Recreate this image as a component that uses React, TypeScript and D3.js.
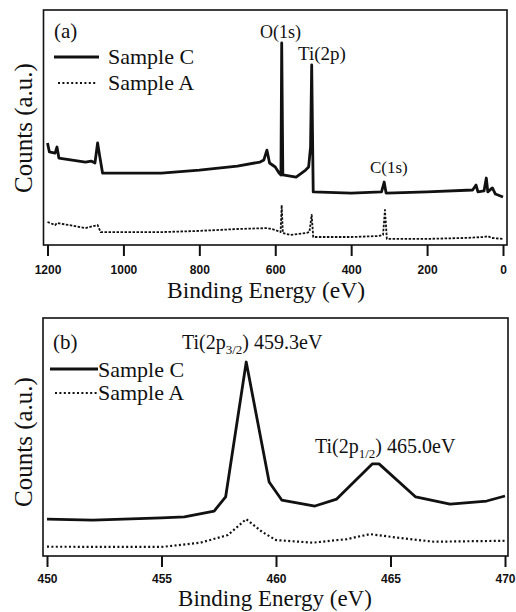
import React, { useEffect, useRef } from 'react';
import * as d3 from 'd3';

// Survey scan (a), binding energy in eV and counts (a.u., 0-100)
const surveyEnergyC = [1200, 1195, 1180, 1175, 1170, 1100, 1085, 1075, 1068, 1062, 1055, 1000, 900, 800, 700, 640, 630, 622, 615, 600, 590, 585, 583, 580, 545, 520, 512, 507, 504, 500, 400, 320, 313, 308, 200, 80, 71, 66, 50, 44, 40, 28, 20, 0];
const surveyCountsC = [43.4, 39.6, 39.1, 41.7, 37.0, 35.3, 35.7, 34.9, 43.4, 37.4, 30.6, 30.6, 30.6, 31.9, 33.6, 35.3, 36.2, 40.4, 34.9, 33.2, 30.6, 29.8, 86.0, 29.8, 28.9, 31.9, 33.2, 41.7, 76.6, 22.6, 22.1, 22.6, 26.8, 22.1, 22.6, 23.4, 25.5, 22.6, 23.0, 28.5, 22.6, 24.3, 21.7, 20.4];
const surveyEnergyA = [1200, 1180, 1175, 1100, 1068, 1060, 1000, 900, 800, 700, 620, 600, 586, 583, 580, 560, 520, 510, 504, 500, 400, 330, 316, 311, 306, 200, 100, 50, 40, 30, 0];
const surveyCountsA = [9.8, 8.5, 9.4, 7.2, 8.5, 5.5, 5.5, 5.5, 6.0, 6.8, 7.2, 6.4, 5.5, 17.0, 5.1, 4.3, 5.1, 5.5, 12.8, 3.4, 3.4, 3.8, 4.3, 14.9, 2.6, 2.6, 3.0, 3.4, 3.8, 3.0, 2.6];
const surveyTicks = [1200, 1000, 800, 600, 400, 200, 0];

// Ti(2p) region (b)
const tiEnergyC = [450, 452, 455, 456, 457.3, 457.8, 458.7, 459.7, 460.25, 461.7, 462.65, 464.2, 464.5, 466.1, 467.6, 469.2, 470];
const tiCountsC = [15.5, 15.1, 16.0, 16.4, 18.9, 24.8, 81.5, 31.1, 23.5, 21.0, 23.9, 38.7, 38.7, 24.8, 21.8, 23.1, 25.2];
const tiEnergyA = [450, 455, 456.7, 457.9, 458.7, 459.4, 460.0, 461.6, 463.1, 464.1, 465.4, 466.9, 470];
const tiCountsA = [3.9, 3.8, 5.6, 8.8, 15.5, 10.1, 6.7, 5.6, 7.1, 9.2, 7.6, 6.0, 6.4];
const tiTicks = [450, 455, 460, 465, 470];

const serif = 'Liberation Serif';
const sans = 'Liberation Sans';

const solidStyle = { width: 2.8, dash: null };
const dotStyle = { width: 2.2, dash: '2,2.4' };

function drawPanel(svg, opts) {
    const { frame, domain, range, ticks, series, tickPadding } = opts;

    const x = d3.scaleLinear().domain(domain).range(range);
    const y = d3.scaleLinear().domain([0, 100]).range([frame.y1, frame.y0]);

    const g = svg.append('g');

    //  Frame
    g.append('rect')
        .attr('x', frame.x0)
        .attr('y', frame.y0)
        .attr('width', frame.x1 - frame.x0)
        .attr('height', frame.y1 - frame.y0)
        .attr('fill', 'none')
        .attr('stroke', '#111')
        .attr('stroke-width', 1.6);

    //  Bottom axis, ticks hang below the frame
    const axis = g.append('g')
        .attr('transform', 'translate(0,' + frame.y1 + ')')
        .call(d3.axisBottom(x).tickValues(ticks).tickSize(11).tickPadding(tickPadding).tickFormat(d3.format('d')));
    axis.select('.domain').remove();
    axis.attr('font-family', sans).attr('font-size', 12).attr('font-weight', 'bold');
    axis.selectAll('line').attr('stroke', '#111').attr('stroke-width', 2);
    axis.selectAll('text').attr('fill', '#111');

    const line = d3.line().x(d => x(d[0])).y(d => y(d[1]));

    series.forEach(s => {
        g.append('path')
            .datum(s.energy.map((e, i) => [e, s.counts[i]]))
            .attr('d', line)
            .attr('fill', 'none')
            .attr('stroke', '#111')
            .attr('stroke-width', s.style.width)
            .attr('stroke-linejoin', 'round')
            .attr('stroke-dasharray', s.style.dash);
    });

    return g;
}

function addText(g, x, y, size, text, anchor = 'start') {
    return g.append('text')
        .attr('x', x)
        .attr('y', y)
        .attr('font-family', serif)
        .attr('font-size', size)
        .attr('fill', '#111')
        .attr('text-anchor', anchor)
        .text(text);
}

function addLegend(g, items) {
    items.forEach(it => {
        g.append('line')
            .attr('x1', it.x0).attr('x2', it.x1)
            .attr('y1', it.ly).attr('y2', it.ly)
            .attr('stroke', '#111')
            .attr('stroke-width', it.style.width)
            .attr('stroke-dasharray', it.style.dash);
        addText(g, it.tx, it.ty, 22, it.label);
    });
}

function addSubLabel(g, x, y, sub, rest) {
    const t = g.append('text')
        .attr('x', x)
        .attr('y', y)
        .attr('font-family', serif)
        .attr('font-size', 20)
        .attr('fill', '#111');
    t.append('tspan').text('Ti(2p');
    t.append('tspan').attr('font-size', 13).attr('dy', 5).text(sub);
    t.append('tspan').attr('dy', -5).text(rest);
}

export default function App() {
    const ref = useRef(null);

    useEffect(() => {
        const svg = d3.select(ref.current);
        svg.selectAll('*').remove();

        //  (a) survey
        const a = drawPanel(svg, {
            frame: { x0: 43.5, x1: 507, y0: 10, y1: 245 },
            domain: [1200, 0],
            range: [47.5, 503],
            ticks: surveyTicks,
            tickPadding: 9.5,
            series: [
                { energy: surveyEnergyA, counts: surveyCountsA, style: { width: 1.8, dash: '2.5,1.5' } },
                { energy: surveyEnergyC, counts: surveyCountsC, style: solidStyle }
            ]
        });
        addText(a, 54, 38, 21, '(a)');
        addLegend(a, [
            { x0: 54, x1: 99, ly: 57, tx: 108, ty: 64, label: 'Sample C', style: solidStyle },
            { x0: 58, x1: 97, ly: 83, tx: 108, ty: 90, label: 'Sample A', style: dotStyle }
        ]);
        addText(a, 260, 38, 18, 'O(1s)');
        addText(a, 298, 60, 19, 'Ti(2p)');
        addText(a, 370, 173, 17, 'C(1s)');
        addText(a, 266, 298, 23.5, 'Binding Energy (eV)', 'middle');
        addText(a, 0, 0, 25, 'Counts (a.u.)', 'middle')
            .attr('transform', 'translate(32,128) rotate(-90)');

        //  (b) Ti(2p) detail
        const b = drawPanel(svg, {
            frame: { x0: 43, x1: 508, y0: 318, y1: 556 },
            domain: [450, 470],
            range: [47, 505],
            ticks: tiTicks,
            tickPadding: 7.5,
            series: [
                { energy: tiEnergyA, counts: tiCountsA, style: dotStyle },
                { energy: tiEnergyC, counts: tiCountsC, style: solidStyle }
            ]
        });
        addText(b, 53, 349, 21, '(b)');
        addLegend(b, [
            { x0: 50, x1: 98, ly: 369, tx: 98, ty: 377, label: 'Sample C', style: solidStyle },
            { x0: 55, x1: 97, ly: 393, tx: 98, ty: 400, label: 'Sample A', style: dotStyle }
        ]);
        addSubLabel(b, 182, 349, '3/2', ') 459.3eV');
        addSubLabel(b, 315, 453, '1/2', ') 465.0eV');
        addText(b, 275, 606, 23, 'Binding Energy (eV)', 'middle');
        addText(b, 0, 0, 25, 'Counts (a.u.)', 'middle')
            .attr('transform', 'translate(32,442) rotate(-90)');
    }, []);

    return (
        <svg ref={ref} width={516} height={612}
            style={{ position: 'absolute', left: 0, top: 0, background: '#fff', display: 'block' }} />
    );
}
